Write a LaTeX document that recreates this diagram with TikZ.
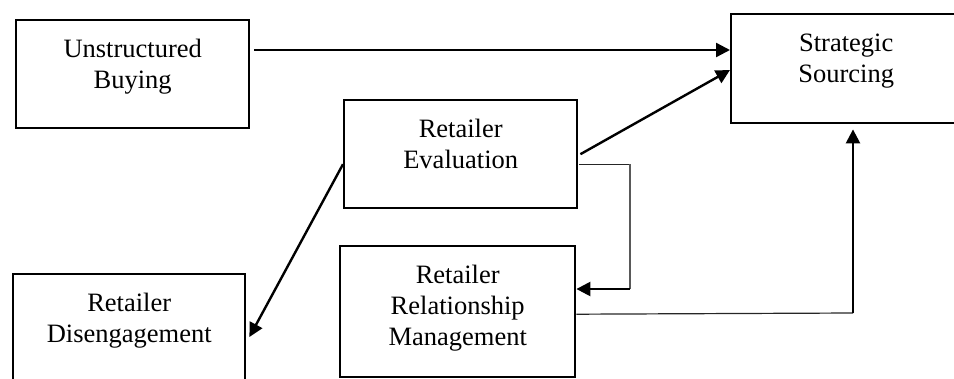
\documentclass[tikz,border=0pt]{standalone}
\usepackage{fontspec}
\setmainfont{Liberation Serif}
\usetikzlibrary{arrows.meta}
\newcommand\bxt[3]{\parbox[c][#2pt][t]{#1pt}{\centering\vspace*{15.3pt}\strut #3}}
\tikzset{
  box/.style={draw, line width=2.4pt, inner sep=0pt, anchor=north west,
    font=\fontsize{26.5}{31}\selectfont},
  arr/.style={line width=2.4pt, -{Triangle[length=14pt,width=14pt]}},
  thinline/.style={line width=1.2pt, black!85},
  grayline/.style={line width=1.2pt, black!65},
}
\begin{document}
\begin{tikzpicture}[x=1pt,y=-1pt]
\useasboundingbox (0,0) rectangle (954,378);
\clip (0,0) rectangle (954,378);
\node[box] (ub) at (15,19) {\bxt{233}{108}{Unstructured\\Buying}};
\node[box] (ss) at (730,13) {\bxt{230}{109}{Strategic\\Sourcing}};
\node[box] (re) at (343,99) {\bxt{233}{108}{Retailer\\Evaluation}};
\node[box] (rrm) at (339,245) {\bxt{235}{131}{Retailer\\Relationship\\Management}};
\node[box] (rd) at (12,273) {\bxt{232}{125}{Retailer\\Disengagement}};
\coordinate (c1) at (630,289);
\coordinate (c2) at (853,313);
\draw[arr] ([xshift=4pt,yshift=-31pt]ub.north east) -- ([yshift=-37pt]ss.north west);
\draw[arr] ([xshift=2pt]re.east) -- ([yshift=-57pt]ss.north west);
\draw[arr] ([yshift=-10pt]re.west) -- ([xshift=3pt,yshift=-64pt]rd.north east);
\draw[thinline] ([xshift=1pt,yshift=-10pt]re.east) -- ([yshift=-10pt]re.east -| c1);
\draw[grayline] ([yshift=-10pt]re.east -| c1) -- (c1);
\draw[arr] (c1) -- (c1 -| rrm.east);
\draw[thinline] ([yshift=-2.5pt]rrm.east) -- (c2);
\draw[arr] (c2) -- ([yshift=-5pt]ss.south -| c2);
\end{tikzpicture}
\end{document}
